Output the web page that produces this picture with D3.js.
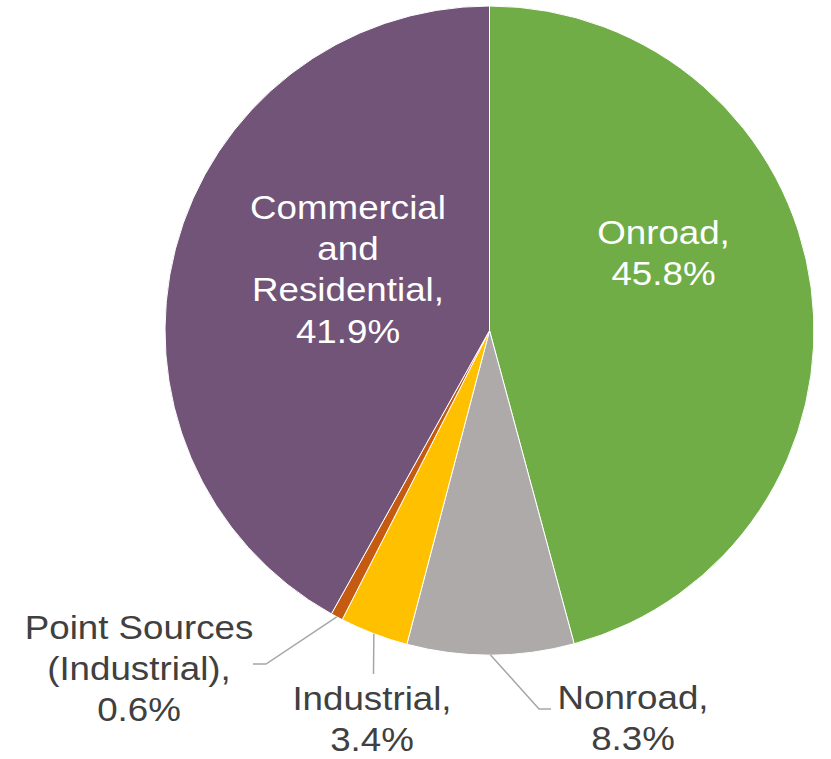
<!DOCTYPE html>
<html>
<head>
<meta charset="utf-8">
<script src="https://cdn.jsdelivr.net/npm/d3@7"></script>
<style>
  html, body { margin: 0; padding: 0; background: #ffffff; }
  svg { display: block; }
  text { font-family: "Liberation Sans", Arial, sans-serif; }
</style>
</head>
<body>
<svg id="chart" width="831" height="759"></svg>
<script>
// Emission shares by source sector (percent)
const categories = ["Onroad", "Nonroad", "Industrial", "Point Sources (Industrial)", "Commercial and Residential"];
const shares = [45.8, 8.3, 3.4, 0.6, 41.9];
const colors = ["#70AD47", "#AEAAAA", "#FFC000", "#C55A11", "#715478"];

// Label line breaks for each sector (value appended as last line)
const labelLines = [
  ["Onroad,"],
  ["Nonroad,"],
  ["Industrial,"],
  ["Point Sources", "(Industrial),"],
  ["Commercial", "and", "Residential,"]
];

const W = 831, H = 759;
const cx = 489.5, cy = 330.5, R = 324.5;
const fontSize = 34, lineGap = 41.5, stretchX = 1.08;

// Label placement: inside labels are centred in the slice, outside ones use a leader line
const layout = [
  { inside: true,  x: 663.5, y: 243.5 },
  { inside: false, x: 633,   y: 709, elbow: [539, 709], end: [551, 709] },
  { inside: false, x: 372,   y: 710, elbow: null,       end: [373.5, 674] },
  { inside: false, x: 139,   y: 638.5, elbow: [266, 664], end: [253, 664] },
  { inside: true,  x: 348,   y: 218.5 }
];

const data = categories.map((c, i) => ({ name: c, value: shares[i], color: colors[i], lines: labelLines[i], pos: layout[i] }));

const svg = d3.select("#chart");
const g = svg.append("g").attr("transform", `translate(${cx},${cy})`);

const pie = d3.pie().value(d => d.value).sort(null).startAngle(0).endAngle(2 * Math.PI);
const arcs = pie(data);
const arc = d3.arc().innerRadius(0).outerRadius(R);

g.selectAll("path.slice")
  .data(arcs)
  .join("path")
  .attr("class", "slice")
  .attr("d", arc)
  .attr("fill", d => d.data.color)
  .attr("stroke", "#ffffff")
  .attr("stroke-width", 1);

// Leader lines from the slice edge to outside labels
const leaders = svg.append("g");
arcs.forEach(a => {
  const p = a.data.pos;
  if (p.inside) return;
  const mid = (a.startAngle + a.endAngle) / 2;
  const sx = cx + R * Math.sin(mid), sy = cy - R * Math.cos(mid);
  const pts = [[sx, sy]];
  if (p.elbow) pts.push(p.elbow);
  pts.push(p.end);
  leaders.append("path")
    .attr("d", d3.line()(pts))
    .attr("fill", "none")
    .attr("stroke", "#A6A6A6")
    .attr("stroke-width", 1.5);
});

// Sector labels
const labels = svg.append("g");
arcs.forEach(a => {
  const d = a.data, p = d.pos;
  const lines = d.lines.concat([d3.format(".1f")(d.value) + "%"]);
  const t = labels.append("text")
    .attr("transform", `translate(${p.x},${p.y}) scale(${stretchX},1)`)
    .attr("text-anchor", "middle")
    .attr("font-size", fontSize)
    .attr("fill", p.inside ? "#ffffff" : "#404040");
  lines.forEach((ln, k) => {
    t.append("tspan").attr("x", 0).attr("y", k * lineGap).text(ln);
  });
});
</script>
</body>
</html>
